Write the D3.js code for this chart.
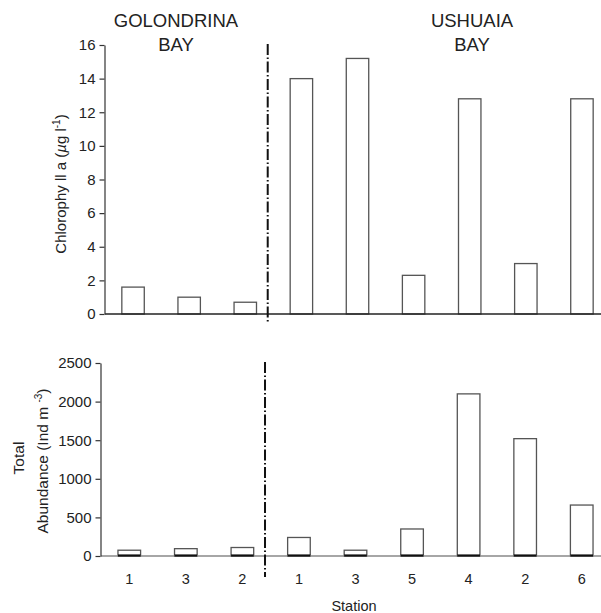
<!DOCTYPE html>
<html>
<head>
<meta charset="utf-8">
<script src="https://cdn.jsdelivr.net/npm/d3@7"></script>
<style>
  body { margin: 0; background: #fff; }
  svg { display: block; font-family: "Liberation Sans", Arial, sans-serif; }
  text { fill: #222; }
</style>
</head>
<body>
<svg id="chart" width="601" height="613"></svg>
<script>
// station order along the x axis, first three in Golondrina Bay, rest in Ushuaia Bay
const stations = ['1', '3', '2', '1', '3', '5', '4', '2', '6'];
const bayNames = [['GOLONDRINA', 'BAY'], ['USHUAIA', 'BAY']];
const chlorophyll = [1.6, 1.0, 0.7, 14.0, 15.2, 2.3, 12.8, 3.0, 12.8];
const abundance = [75, 95, 110, 240, 75, 350, 2100, 1520, 660];
const chlTicks = [0, 2, 4, 6, 8, 10, 12, 14, 16];
const abTicks = [0, 500, 1000, 1500, 2000, 2500];

const svg = d3.select('#chart');
const idx = d3.range(stations.length);

function panel(opt) {
  const x = d3.scaleBand().domain(idx).range(opt.xr).paddingInner(0.6).paddingOuter(0.3);
  const y = d3.scaleLinear().domain(opt.dom).range(opt.yr);
  const g = svg.append('g');

  // bars
  g.selectAll('rect.bar').data(opt.values).join('rect')
    .attr('class', 'bar')
    .attr('x', (d, i) => x(i))
    .attr('y', d => y(d))
    .attr('width', x.bandwidth())
    .attr('height', d => y(0) - y(d))
    .attr('fill', '#fff')
    .attr('stroke', '#555')
    .attr('stroke-width', 1.3);

  // x baseline
  g.append('line')
    .attr('x1', opt.xr[0]).attr('x2', 601)
    .attr('y1', y(0)).attr('y2', y(0))
    .attr('stroke', opt.baseColor).attr('stroke-width', 1.5);

  if (opt.darkBase) {
    g.selectAll('line.base').data(opt.values).join('line')
      .attr('class', 'base')
      .attr('x1', (d, i) => x(i)).attr('x2', (d, i) => x(i) + x.bandwidth())
      .attr('y1', y(0) - 0.5).attr('y2', y(0) - 0.5)
      .attr('stroke', '#111').attr('stroke-width', 2.2);
  }

  // y axis
  const ax = g.append('g')
    .attr('transform', `translate(${opt.xr[0] - 0.5},0)`)
    .call(d3.axisLeft(y).tickValues(opt.ticks).tickFormat(d3.format('d'))
      .tickSize(5).tickPadding(4).tickSizeOuter(0));
  ax.select('.domain').attr('stroke', '#333').attr('stroke-width', 1.2);
  ax.selectAll('.tick line').attr('stroke', '#333').attr('stroke-width', 1.2);
  ax.selectAll('.tick text').attr('font-size', 15).attr('fill', '#222')
    .attr('font-family', '"Liberation Sans", Arial, sans-serif');

  // dash-dot separator between the two bays
  const step = x.step();
  const sx = x(2) + x.bandwidth() + 0.2 * step;
  g.append('line')
    .attr('x1', sx).attr('x2', sx)
    .attr('y1', opt.sepY[0]).attr('y2', opt.sepY[1])
    .attr('stroke', '#111').attr('stroke-width', 2)
    .attr('stroke-dasharray', '11,2.5,1.5,2.5');

  return { x, y, g };
}

const chlPanel = panel({
  values: chlorophyll, dom: [0, 16], ticks: chlTicks,
  xr: [105, 610], yr: [314, 45], sepY: [44, 322], baseColor: '#222'
});

const abPanel = panel({
  values: abundance, dom: [0, 2500], ticks: abTicks,
  xr: [101, 610], yr: [556, 363], sepY: [362, 577], baseColor: '#888', darkBase: true
});

// station labels under bottom panel
abPanel.g.selectAll('text.st').data(stations).join('text')
  .attr('class', 'st')
  .attr('x', (d, i) => abPanel.x(i) + abPanel.x.bandwidth() / 2)
  .attr('y', 584)
  .attr('text-anchor', 'middle')
  .attr('font-size', 14.5)
  .text(d => d);

svg.append('text')
  .attr('x', 354).attr('y', 611)
  .attr('text-anchor', 'middle').attr('font-size', 14.5)
  .text('Station');

// bay titles
const titleX = [176, 472];
bayNames.forEach((lines, k) => {
  lines.forEach((t, j) => {
    svg.append('text')
      .attr('x', titleX[k]).attr('y', 27 + j * 24)
      .attr('text-anchor', 'middle').attr('font-size', 18.5)
      .text(t);
  });
});

// y axis titles
const yl1 = svg.append('text')
  .attr('transform', 'translate(66,184) rotate(-90)')
  .attr('text-anchor', 'middle').attr('font-size', 15);
yl1.append('tspan').text('Chlorophy ll  a (');
yl1.append('tspan').attr('font-style', 'italic').text('\u00b5');
yl1.append('tspan').text('g l');
yl1.append('tspan').attr('font-size', 10).attr('dy', -6).text('-1');
yl1.append('tspan').attr('dy', 6).text(')');

svg.append('text')
  .attr('transform', 'translate(24,458) rotate(-90)')
  .attr('text-anchor', 'middle').attr('font-size', 15.5)
  .text('Total');

const yl2 = svg.append('text')
  .attr('transform', 'translate(48,461) rotate(-90)')
  .attr('text-anchor', 'middle').attr('font-size', 15.5);
yl2.append('tspan').text('Abundance (Ind m ');
yl2.append('tspan').attr('font-size', 10).attr('dy', -6).text('-3');
yl2.append('tspan').attr('dy', 6).text(')');
</script>
</body>
</html>
